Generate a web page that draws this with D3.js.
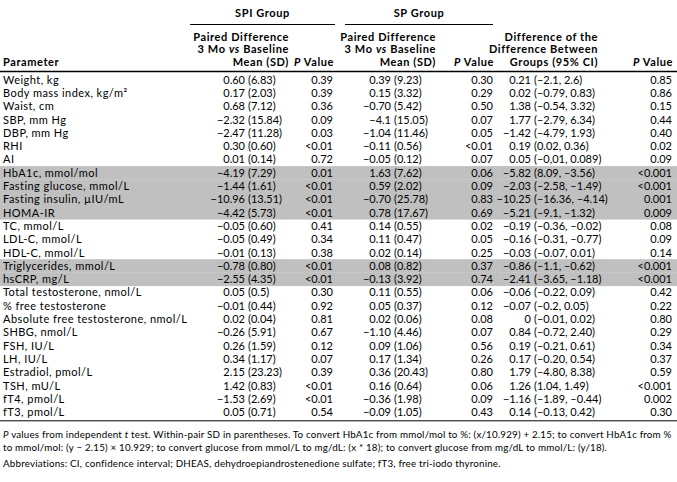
<!DOCTYPE html>
<html><head><meta charset="utf-8">
<script src="https://cdn.jsdelivr.net/npm/d3@7"></script>
<style>
body{margin:0;background:#fff}
svg text{font-family:Lato,"Open Sans",sans-serif;fill:#000}
</style>
</head><body><svg id="chart"></svg>
<script>
const parameters = ["Weight, kg","Body mass index, kg/m²","Waist, cm","SBP, mm Hg","DBP, mm Hg","RHI","AI","HbA1c, mmol/mol","Fasting glucose, mmol/L","Fasting insulin, µIU/mL","HOMA-IR","TC, mmol/L","LDL-C, mmol/L","HDL-C, mmol/L","Triglycerides, mmol/L","hsCRP, mg/L","Total testosterone, nmol/L","% free testosterone","Absolute free testosterone, nmol/L","SHBG, nmol/L","FSH, IU/L","LH, IU/L","Estradiol, pmol/L","TSH, mU/L","fT4, pmol/L","fT3, pmol/L"];
const spiMean = ["0.60","0.17","0.68","−2.32","−2.47","0.30","0.01","−4.19","−1.44","−10.96","−4.42","−0.05","−0.05","−0.01","−0.78","−2.55","0.05","−0.01","0.02","−0.26","0.26","0.34","2.15","1.42","−1.53","0.05"];
const spiSD = ["6.83","2.03","7.12","15.84","11.28","0.60","0.14","7.29","1.61","13.51","5.73","0.60","0.49","0.13","0.80","4.35","0.5","0.44","0.04","5.91","1.59","1.17","23.23","0.83","2.69","0.71"];
const spiP = ["0.39","0.39","0.36","0.09","0.03","<0.01","0.72","0.01","<0.01","<0.01","<0.01","0.41","0.34","0.38","<0.01","<0.01","0.30","0.92","0.81","0.67","0.12","0.07","0.39","<0.01","<0.01","0.54"];
const spMean = ["0.39","0.15","−0.70","−4.1","−1.04","−0.11","−0.05","1.63","0.59","−0.70","0.78","0.14","0.11","0.02","0.08","−0.13","0.11","0.05","0.02","−1.10","0.09","0.17","0.36","0.16","−0.36","−0.09"];
const spSD = ["9.23","3.32","5.42","15.05","11.46","0.56","0.12","7.62","2.02","25.78","17.67","0.55","0.47","0.14","0.82","3.92","0.55","0.37","0.06","4.46","1.06","1.34","20.43","0.64","1.98","1.05"];
const spP = ["0.30","0.29","0.50","0.07","0.05","<0.01","0.07","0.06","0.09","0.83","0.69","0.02","0.05","0.25","0.37","0.74","0.06","0.12","0.08","0.07","0.56","0.26","0.80","0.06","0.09","0.43"];
const diffEst = ["0.21","0.02","1.38","1.77","−1.42","0.19","0.05","−5.82","−2.03","−10.25","−5.21","−0.19","−0.16","−0.03","−0.86","−2.41","−0.06","−0.07","0","0.84","0.19","0.17","1.79","1.26","−1.16","0.14"];
const diffCI = ["–2.1, 2.6","–0.79, 0.83","–0.54, 3.32","–2.79, 6.34","–4.79, 1.93","0.02, 0.36","–0,01, 0.089","8.09, –3.56","–2.58, –1.49","–16.36, –4.14","–9.1, –1.32","–0.36, –0.02","–0.31, –0.77","–0.07, 0.01","–1.1, –0.62","–3.65, –1.18","–0.22, 0.09","–0.2, 0.05","–0.01, 0.02","–0.72, 2.40","–0.21, 0.61","–0.20, 0.54","–4.80, 8.38","1.04, 1.49","–1.89, –0.44","–0.13, 0.42"];
const diffP = ["0.85","0.86","0.15","0.44","0.40","0.02","0.09","<0.001","<0.001","0.001","0.009","0.08","0.09","0.14","<0.001","<0.001","0.42","0.22","0.80","0.29","0.34","0.37","0.59","<0.001","0.002","0.30"];
const shadedRows = ["HbA1c, mmol/mol","Fasting glucose, mmol/L","Fasting insulin, µIU/mL","HOMA-IR","Triglycerides, mmol/L","hsCRP, mg/L"];
const groupLabels = ["SPI Group","SP Group"];
const footnotes = [
  [["P",true]," values from independent ",["t",true]," test. Within-pair SD in parentheses. To convert HbA1c from mmol/mol to %: (x/10.929) + 2.15; to convert HbA1c from %"],
  ["to mmol/mol: (y − 2.15) × 10.929; to convert glucose from mmol/L to mg/dL: (x * 18); to convert glucose from mg/dL to mmol/L: (y/18)."],
  ["Abbreviations: CI, confidence interval; DHEAS, dehydroepiandrostenedione sulfate; fT3, free tri-iodo thyronine."]
];

const W = 677, H = 482;
const svg = d3.select("#chart").attr("width", W).attr("height", H);
svg.append("rect").attr("width", W).attr("height", H).attr("fill", "#fff");

const FS = 11;
const rowTop = 73, rowH = 13.3;
const y = d3.scaleBand().domain(d3.range(parameters.length))
  .range([rowTop, rowTop + rowH * parameters.length]).padding(0);

// shaded bands
svg.append("g").selectAll("rect")
  .data(d3.range(parameters.length).filter(i => shadedRows.includes(parameters[i])))
  .join("rect")
  .attr("x", 0).attr("width", W)
  .attr("y", i => y(i)).attr("height", y.bandwidth() + 0.3)
  .attr("fill", "#c0c0c0");

// header
const hdr = svg.append("g").attr("font-weight", "bold").attr("font-size", FS).attr("letter-spacing", 0.6);
const groups = [{label: groupLabels[0], x1: 190, x2: 335}, {label: groupLabels[1], x1: 345, x2: 493}];
groups.forEach(g => {
  hdr.append("text").attr("x", (g.x1 + g.x2) / 2).attr("y", 16.5).attr("text-anchor", "middle").text(g.label);
  svg.append("line").attr("x1", g.x1).attr("x2", g.x2).attr("y1", 24.5).attr("y2", 24.5)
    .attr("stroke", "#000").attr("stroke-width", 1);
});
const hl = [41, 53, 66];
function pairedHeader(xr) {
  hdr.append("text").attr("x", xr).attr("y", hl[0]).attr("text-anchor", "end").text("Paired Difference");
  const t = hdr.append("text").attr("x", xr).attr("y", hl[1]).attr("text-anchor", "end");
  t.append("tspan").text("3 Mo ");
  t.append("tspan").attr("font-style", "italic").text("vs");
  t.append("tspan").text(" Baseline");
  hdr.append("text").attr("x", xr).attr("y", hl[2]).attr("text-anchor", "end").text("Mean (SD)");
}
function pHeader(xr) {
  const t = hdr.append("text").attr("x", xr).attr("y", hl[2]).attr("text-anchor", "end");
  t.append("tspan").attr("font-style", "italic").text("P");
  t.append("tspan").text(" Value");
}
hdr.append("text").attr("x", 3).attr("y", hl[2]).text("Parameter");
pairedHeader(289); pHeader(334);
pairedHeader(436); pHeader(494);
hdr.append("text").attr("x", 598).attr("y", hl[0]).attr("text-anchor", "end").text("Difference of the");
hdr.append("text").attr("x", 598).attr("y", hl[1]).attr("text-anchor", "end").text("Difference Between");
hdr.append("text").attr("x", 598).attr("y", hl[2]).attr("text-anchor", "end").text("Groups (95% CI)");
pHeader(673);

svg.append("line").attr("x1", 0).attr("x2", W).attr("y1", 71.5).attr("y2", 71.5)
  .attr("stroke", "#000").attr("stroke-width", 1.3);
svg.append("line").attr("x1", 0).attr("x2", W).attr("y1", y.range()[1] + 2).attr("y2", y.range()[1] + 2)
  .attr("stroke", "#000").attr("stroke-width", 1);

// body
const body = svg.append("g").attr("font-size", FS);
const cy = i => y(i) + y.bandwidth() / 2 + 4;
function col(values, x, anchor, ls) {
  body.append("g").attr("letter-spacing", ls || 0).selectAll("text").data(values).join("text")
    .attr("x", x).attr("y", (d, i) => cy(i)).attr("text-anchor", anchor).text(d => d);
}
col(parameters, 3, "start", 0.45);
col(spiMean, 245, "end");
col(spiSD.map(d => "(" + d + ")"), 248, "start");
col(spiP, 333, "end");
col(spMean, 391, "end");
col(spSD.map(d => "(" + d + ")"), 394, "start");
col(spP, 493, "end");
col(diffEst, 531, "end");
col(diffCI.map(d => "(" + d + ")"), 534, "start");
col(diffP, 672, "end");

// footnotes
const fy = [438, 451, 467];
const fn = svg.append("g").attr("font-size", 10).attr("letter-spacing", 0.2);
const fnTexts = footnotes.map((parts, k) => {
  const t = fn.append("text").attr("x", 3).attr("y", fy[k]);
  parts.forEach(p => {
    if (Array.isArray(p)) t.append("tspan").attr("font-style", "italic").text(p[0]);
    else t.append("tspan").text(p);
  });
  return t;
});
// fit first footnote line to the table width
const w0 = fnTexts[0].node().getComputedTextLength();
fn.attr("font-size", Math.min(10.5, 10 * 669 / w0));
</script>
</body></html>
